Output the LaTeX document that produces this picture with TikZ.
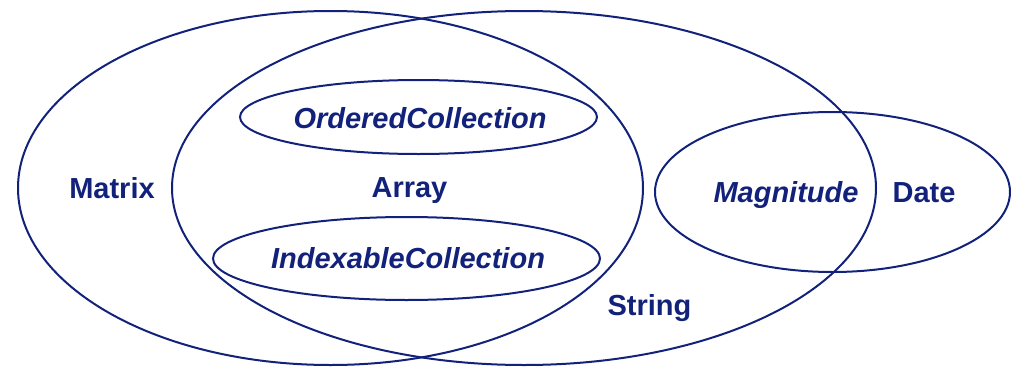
\documentclass[tikz,border=0pt]{standalone}
\usepackage{fontspec}
\setmainfont{Liberation Sans}
\begin{document}
\begin{tikzpicture}[x=1pt,y=-1pt,
  set/.style={draw=navy,line width=2pt},
  lbl/.style={anchor=base,text=navy,font=\fontsize{29}{34}\selectfont\bfseries,inner sep=0pt},
  ilbl/.style={lbl,font=\fontsize{29}{34}\selectfont\bfseries\itshape}]
\definecolor{navy}{RGB}{18,34,122}
\useasboundingbox (0,0) rectangle (1012,367);
% sets
\draw[set] (330.5,188) ellipse [x radius=312.5, y radius=177];
\draw[set] (524,188) ellipse [x radius=352, y radius=177];
\draw[set] (832.5,192) ellipse [x radius=177.5, y radius=80];
\draw[set] (418.5,117) ellipse [x radius=178.5, y radius=37];
\draw[set] (406.5,258.5) ellipse [x radius=193.5, y radius=41.5];
% labels
\node[lbl] (matrix) at (112,198) {Matrix};
\node[lbl] (array) at (409.5,197) {Array};
\node[ilbl] (ordered) at (420,128) {OrderedCollection};
\node[ilbl] (indexable) at (408,268) {IndexableCollection};
\node[lbl] (string) at (649.5,315) {String};
\node[ilbl] (magnitude) at (786,202) {Magnitude};
\node[lbl] (date) at (924,202) {Date};
\end{tikzpicture}
\end{document}
